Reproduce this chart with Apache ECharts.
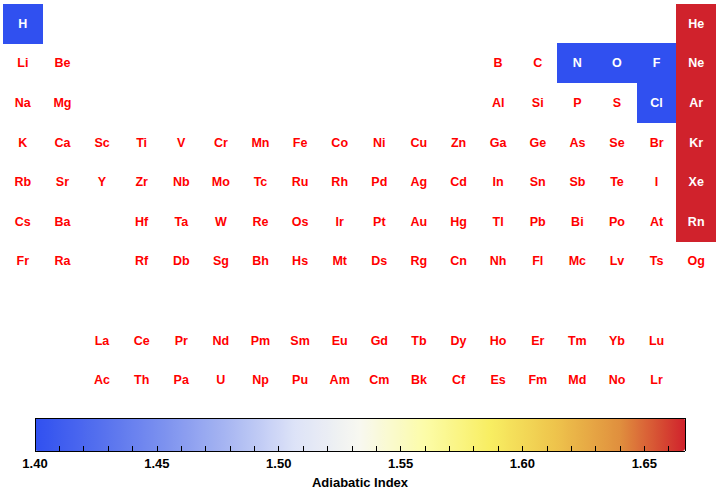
<!DOCTYPE html>
<html><head><meta charset="utf-8">
<script src="https://cdn.jsdelivr.net/npm/echarts@6/dist/echarts.min.js"></script>
<style>html,body{margin:0;padding:0;background:#fff}#c{width:720px;height:494px}
#c svg path{shape-rendering:crispEdges}</style>
</head><body><div id="c"></div>
<script>
// Periodic table layout (18 columns per row, '' = empty cell)
const row1 = ['H','','','','','','','','','','','','','','','','','He'];
const row2 = ['Li','Be','','','','','','','','','','','B','C','N','O','F','Ne'];
const row3 = ['Na','Mg','','','','','','','','','','','Al','Si','P','S','Cl','Ar'];
const row4 = ['K','Ca','Sc','Ti','V','Cr','Mn','Fe','Co','Ni','Cu','Zn','Ga','Ge','As','Se','Br','Kr'];
const row5 = ['Rb','Sr','Y','Zr','Nb','Mo','Tc','Ru','Rh','Pd','Ag','Cd','In','Sn','Sb','Te','I','Xe'];
const row6 = ['Cs','Ba','','Hf','Ta','W','Re','Os','Ir','Pt','Au','Hg','Tl','Pb','Bi','Po','At','Rn'];
const row7 = ['Fr','Ra','','Rf','Db','Sg','Bh','Hs','Mt','Ds','Rg','Cn','Nh','Fl','Mc','Lv','Ts','Og'];
const row8 = ['','','','','','','','','','','','','','','','','',''];
const row9 = ['','','La','Ce','Pr','Nd','Pm','Sm','Eu','Gd','Tb','Dy','Ho','Er','Tm','Yb','Lu',''];
const row10 = ['','','Ac','Th','Pa','U','Np','Pu','Am','Cm','Bk','Cf','Es','Fm','Md','No','Lr',''];

// Adiabatic index values (elements with data)
const dataSymbols = ['H','He','N','O','F','Ne','Cl','Ar','Kr','Xe','Rn'];
const adiabaticIndex = [1.4, 1.6667, 1.4, 1.4, 1.4, 1.6667, 1.4, 1.6667, 1.6667, 1.6667, 1.6667];

// Colorbar
const colorbarMin = 1.4;
const colorbarMax = 1.6667;
const colorbarTicks = [1.40, 1.45, 1.50, 1.55, 1.60, 1.65];
const colorbarTitle = 'Adiabatic Index';

const rows = [row1,row2,row3,row4,row5,row6,row7,row8,row9,row10];
const cols = Array.from({length:18},(_,i)=>String(i));
const rowCats = rows.map((_,i)=>String(i));

const heatData = [];
const labelData = [];
rows.forEach((r,ri)=>{
  r.forEach((sym,ci)=>{
    if(!sym) return;
    const k = dataSymbols.indexOf(sym);
    if(k>=0){
      heatData.push([ci,ri,adiabaticIndex[k]]);
    }
    labelData.push({value:[ci,ri],name:sym,label:{color:k>=0?'#ffffff':'#ff0000'}});
  });
});

const FONT = '"Liberation Sans", Arial, Helvetica, sans-serif';
const chart = echarts.init(document.getElementById('c'), null, {renderer:'svg'});
chart.setOption({
  animation:false,
  backgroundColor:'#ffffff',
  grid:[
    {left:3, top:4, width:713, height:396},
    {left:35, top:418, width:650, height:33}
  ],
  xAxis:[
    {type:'category', data:cols, gridIndex:0, show:false},
    {type:'value', gridIndex:1, min:colorbarMin, max:colorbarMax, interval:0.05, z:10,
     axisLine:{show:true, onZero:false, lineStyle:{color:'#000', width:1}},
     axisTick:{show:true, inside:true, length:5, lineStyle:{color:'#000'}},
     minorTick:{show:true, splitNumber:5, length:5, lineStyle:{color:'#000'}},
     splitLine:{show:false},
     axisLabel:{color:'#000', fontFamily:FONT, fontWeight:'bold', fontSize:13, margin:6, showMaxLabel:false,
       formatter:(v)=>{ const t = colorbarTicks.find(x=>Math.abs(x-v)<1e-6); return t===undefined?'':t.toFixed(2);} },
     name:colorbarTitle, nameLocation:'middle', nameGap:25,
     nameTextStyle:{color:'#000', fontFamily:FONT, fontWeight:'bold', fontSize:13}},
    {type:'value', gridIndex:1, position:'top', min:colorbarMin, max:colorbarMax, z:10,
     axisLine:{show:true, onZero:false, lineStyle:{color:'#000', width:1}},
     axisTick:{show:false}, axisLabel:{show:false}, splitLine:{show:false}}
  ],
  yAxis:[
    {type:'category', data:rowCats, gridIndex:0, inverse:true, show:false},
    {type:'value', gridIndex:1, min:0, max:1, z:10, position:'left',
     axisLine:{show:true, onZero:false, lineStyle:{color:'#000', width:1}},
     axisTick:{show:false}, axisLabel:{show:false}, splitLine:{show:false}},
    {type:'value', gridIndex:1, min:0, max:1, z:10, position:'right',
     axisLine:{show:true, onZero:false, lineStyle:{color:'#000', width:1}},
     axisTick:{show:false}, axisLabel:{show:false}, splitLine:{show:false}}
  ],
  visualMap:{
    type:'continuous', min:colorbarMin, max:colorbarMax, seriesIndex:0,
    orient:'horizontal', left:20, top:403, itemWidth:33, itemHeight:650,
    calculable:false, hoverLink:false, text:null, showLabel:false, z:1,
    inRange:{color:['#3050f0','#5570ee','#7d92ef','#aab8f2','#dde3f8','#f8f8f0','#fcfca8','#f8ee62','#eec44c','#e08f3e','#d0222c']}
  },
  series:[
    {type:'heatmap', xAxisIndex:0, yAxisIndex:0, data:heatData, itemStyle:{borderWidth:0}, emphasis:{disabled:true}},
    {type:'scatter', xAxisIndex:0, yAxisIndex:0, data:labelData, symbolSize:1, itemStyle:{color:'rgba(0,0,0,0)', opacity:1},
     label:{show:true, position:'inside', formatter:'{b}', fontFamily:FONT, fontWeight:'bold', fontSize:12.5, textBorderWidth:0, opacity:1}, z:5, silent:true}
  ]
});
</script></body></html>
